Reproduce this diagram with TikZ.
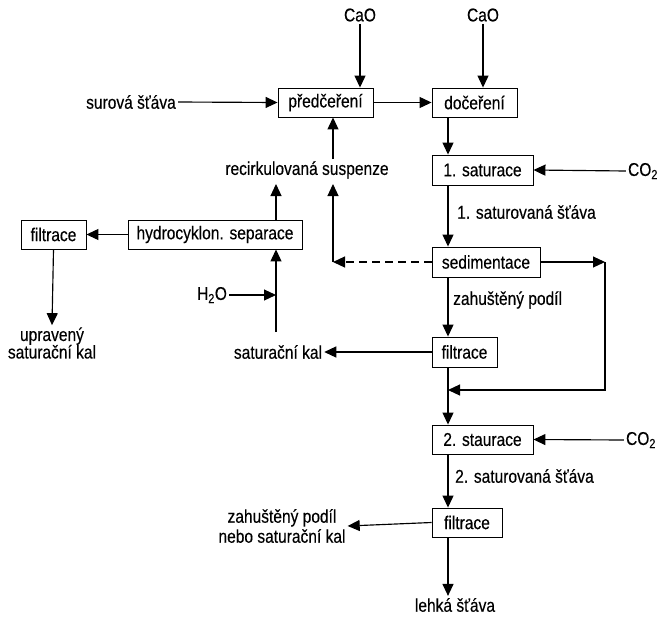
\documentclass[tikz,border=0pt]{standalone}
\usepackage{fontspec}
\setmainfont{Liberation Sans}[FakeStretch=0.84,FakeBold=0.3]
\usetikzlibrary{arrows.meta}
\begin{document}
\begin{tikzpicture}[x=1pt,y=-1pt,
  every node/.style={font=\fontsize{18.5}{21}\selectfont, inner sep=2pt},
  box/.style={draw, line width=0.9pt, minimum height=29pt, inner sep=0pt},
  lab/.style={},
  arr/.style={line width=1.15pt, -{Triangle[length=12pt,width=11pt]}}]
\useasboundingbox (0,0) rectangle (659,619);
% boxes
\node[box, minimum width=95pt] (pre) at (325.5,102.5) {předčeření};
\node[box, minimum width=85pt] (doc) at (474.5,102.5) {dočeření};
\node[box, minimum width=101pt, minimum height=30pt] (sat1) at (482.5,170) {1. saturace};
\node[box, minimum width=108pt, minimum height=30pt] (sed) at (486,262) {sedimentace};
\node[box, minimum width=65pt, minimum height=30pt] (fil1) at (464.5,352) {filtrace};
\node[box, minimum width=101pt] (sat2) at (482.5,439.5) {2. staurace};
\node[box, minimum width=70pt] (fil2) at (467,522.5) {filtrace};
\node[box, minimum width=174pt] (hyd) at (215,234.5) {hydrocyklon. separace};
\node[box, minimum width=65pt] (fil0) at (53.5,234.5) {filtrace};
% labels
\node[lab] (cao1) at (360,15) {CaO};
\node[lab] (cao2) at (483,15) {CaO};
\node[lab] (surova) at (131,102) {surová šťáva};
\node[lab] (co2a) at (643,171) {CO\textsubscript{2}};
\node[lab] (co2b) at (641,440) {CO\textsubscript{2}};
\node[lab] (recirk) at (307,170) {recirkulovaná suspenze};
\node[lab, anchor=west] (l1) at (455,212) {1. saturovaná šťáva};
\node[lab, anchor=west] (l2) at (451,300) {zahuštěný podíl};
\node[lab] (satkal) at (278,352) {saturační kal};
\node[lab] (h2o) at (212,295) {H\textsubscript{2}O};
\node[lab, anchor=west] (l3) at (453,476) {2. saturovaná šťáva};
\node[lab, align=center, font=\fontsize{18.5}{20}\selectfont] (zah2) at (282,526) {zahuštěný podíl\\nebo saturační kal};
\node[lab] (lehka) at (455,605) {lehká šťáva};
\node[lab, align=center, font=\fontsize{18.5}{17.5}\selectfont] (upr) at (52,343) {upravený\\saturační kal};
% helper coordinates
\coordinate (mx) at (448,0);
\coordinate (dl) at (333,262);
\coordinate (rr) at (605,262);
\coordinate (rb) at (605,390);
\coordinate (hx) at (276,0);
\coordinate (rtip) at (0,184);
\coordinate (satop) at (0,332);
\coordinate (h2oj) at (276,295);
% arrows
\draw[arr] (cao1.south) -- (cao1.south |- pre.north);
\draw[arr] (cao2.south) -- (cao2.south |- doc.north);
\draw[arr] (surova.east) -- (pre.west);
\draw[arr] (pre.east) -- (doc.west);
\draw[arr] (doc.south -| mx) -- (sat1.north -| mx);
\draw[arr] (co2a.west) -- (sat1.east);
\draw[arr] (sat1.south -| mx) -- (sed.north -| mx);
\draw[arr, dashed, dash pattern=on 8pt off 5pt] (sed.west) -- (dl);
\draw[arr] (dl) -- (dl |- rtip);
\draw[arr] (recirk.north -| dl) -- (pre.south -| dl);
\draw[arr] (sed.east) -- (rr);
\draw[arr] (rr) -- (rb) -- (rb -| mx);
\draw[arr] (sed.south -| mx) -- (fil1.north -| mx);
\draw[arr] (fil1.west) -- (satkal.east);
\draw[arr] (fil1.south -| mx) -- (sat2.north -| mx);
\draw[arr] (co2b.west) -- (sat2.east);
\draw[arr] (sat2.south -| mx) -- (fil2.north -| mx);
\draw[arr] (fil2.west) -- (zah2.east);
\draw[arr] (fil2.south -| mx) -- (lehka.north -| mx);
\draw[arr] (hx |- satop) -- (hyd.south -| hx);
\draw[arr] (h2o.east) -- (h2oj);
\draw[arr] (hyd.north -| hx) -- (hx |- rtip);
\draw[arr] (hyd.west) -- (fil0.east);
\draw[arr] (fil0.south) -- (upr.north);
\end{tikzpicture}
\end{document}
